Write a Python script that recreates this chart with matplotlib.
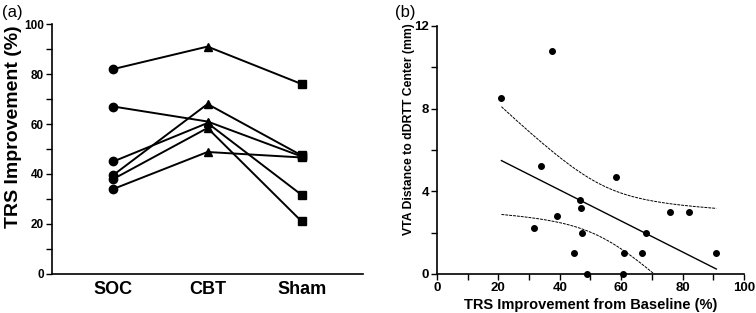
import numpy as np
import matplotlib.pyplot as plt

plt.rcParams['font.family'] = ['Liberation Sans', 'DejaVu Sans']
plt.rcParams['font.weight'] = 'bold'

# panel (a): each subject's TRS improvement under SOC, CBT, Sham
conditions = ["SOC", "CBT", "Sham"]
soc = [82, 67, 45, 38, 39.6, 34]
cbt = [91, 61, 60.4, 58.4, 68, 48.8]
sham = [76, 47, 31.6, 21, 47.4, 46.6]

# panel (b): TRS improvement vs VTA distance
trs = [21, 37.5, 34, 58.3, 46.5, 46.8, 39.2, 31.6, 47.2, 68, 76, 82,
       44.8, 61, 66.7, 91, 49, 60.5]
vta = [8.5, 10.8, 5.2, 4.7, 3.6, 3.2, 2.8, 2.2, 2.0, 2.0, 3.0, 3.0,
       1.0, 1.0, 1.0, 1.0, 0.0, 0.0]

fig = plt.figure(figsize=(7.56, 3.13), dpi=100)

ax1 = fig.add_axes([0.069, 0.125, 0.411, 0.798])
xpos = np.arange(1, len(conditions) + 1)
for a, b, c in zip(soc, cbt, sham):
    ax1.plot(xpos, [a, b, c], color='black', lw=1.4, zorder=2)
    ax1.plot(xpos[0], a, 'o', color='black', ms=6, zorder=3)
    ax1.plot(xpos[1], b, '^', color='black', ms=5.5, zorder=3)
    ax1.plot(xpos[2], c, 's', color='black', ms=6, zorder=3)
ax1.set_xlim(0.35, 3.65)
ax1.set_ylim(0, 100)
ax1.set_xticks(xpos)
ax1.set_xticklabels(conditions, fontsize=13, fontweight='bold')
ax1.tick_params(axis='x', length=0, pad=5)
ax1.set_yticks(range(0, 101, 20))
ax1.set_yticks(range(10, 100, 20), minor=True)
ax1.tick_params(axis='y', labelsize=8.5, direction='out', length=4, width=1, pad=2)
ax1.tick_params(axis='y', which='minor', length=4, width=1)
ax1.set_ylabel("TRS Improvement (%)", fontsize=14, fontweight='bold')
ax1.yaxis.set_label_coords(-0.098, 0.59)
for s in ['top', 'right']:
    ax1.spines[s].set_visible(False)
for s in ['left', 'bottom']:
    ax1.spines[s].set_linewidth(1.2)
fig.text(0.003, 0.945, "(a)", fontsize=12, fontweight='normal')

ax2 = fig.add_axes([0.578, 0.125, 0.406, 0.792])
x = np.array(trs)
y = np.array(vta)
ax2.scatter(x, y, s=16, color='black', zorder=3, clip_on=False)

# linear fit with 95% confidence band
n = len(x)
slope, icpt = np.polyfit(x, y, 1)
xf = np.linspace(x.min(), x.max(), 200)
yf = icpt + slope * xf
resid = y - (icpt + slope * x)
se = np.sqrt(np.sum(resid ** 2) / (n - 2))
t95 = 2.12
band = t95 * se * np.sqrt(1 / n + (xf - x.mean()) ** 2 / np.sum((x - x.mean()) ** 2))
ax2.plot(xf, yf, color='black', lw=1.0)
ax2.plot(xf, yf + band, color='black', lw=0.7, ls=(0, (3, 1)))
ax2.plot(xf, yf - band, color='black', lw=0.7, ls=(0, (3, 1)))

ax2.set_xlim(0, 100)
ax2.set_ylim(0, 12)
ax2.set_xticks(range(0, 101, 20))
ax2.set_xticks(range(10, 100, 20), minor=True)
ax2.set_yticks([0, 4, 8, 12])
ax2.set_yticks([2, 6, 10], minor=True)
ax2.tick_params(which='both', labelsize=9.5, direction='out', length=4, width=1, pad=1.5)
ax2.set_xlabel("TRS Improvement from Baseline (%)", fontsize=10.5, fontweight='bold', labelpad=3)
ax2.set_ylabel("VTA Distance to dDRTT Center (mm)", fontsize=8.8, fontweight='bold')
ax2.yaxis.set_label_coords(-0.072, 0.585)
for s in ['top', 'right']:
    ax2.spines[s].set_visible(False)
for s in ['left', 'bottom']:
    ax2.spines[s].set_linewidth(1.2)
fig.text(0.522, 0.945, "(b)", fontsize=12, fontweight='normal')

fig.savefig("out.png", dpi=100)
